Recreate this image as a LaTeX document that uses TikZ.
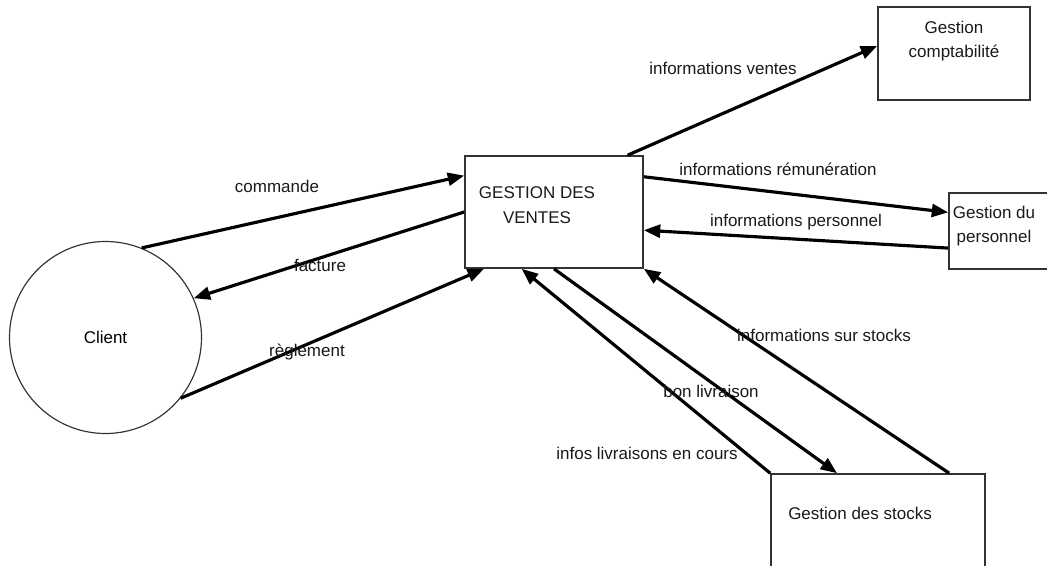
\documentclass[tikz,border=0pt]{standalone}
\usepackage{fontspec}
\setmainfont{Liberation Sans}
\usetikzlibrary{arrows.meta,calc}

\begin{document}
\begin{tikzpicture}[x=0.03cm,y=-0.03cm,font=\fontsize{14.5}{21}\selectfont,
>={Triangle[length=14pt,width=11pt]},
proc/.style={draw=black!80,line width=1.4pt,inner sep=0pt},
flow/.style={->,line width=2.7pt},
lbl/.style={inner sep=1pt,align=center,text=black!90}]
 \useasboundingbox (0,0) rectangle (1047,565);
 \clip (0,0) rectangle (1047,565);
 \node[proc,minimum width=5.34cm,minimum height=3.36cm] (ventes) at (554,212) {};
 \node[proc,minimum width=4.56cm,minimum height=2.79cm] (compta) at (954,53.5) {};
 \node[proc,minimum width=3.03cm,minimum height=2.28cm] (perso) at (999.5,231) {};
 \node[proc,minimum width=6.42cm,minimum height=4.2cm] (stocks) at (878,544) {};
 \node[circle,draw=black!80,line width=1pt,minimum size=5.76cm,inner sep=0pt] (client) at (105.5,337.5) {Client};
 \node[lbl] (ventes-txt) at (537,205) {GESTION DES\\VENTES};
 \node[lbl] (compta-txt) at (954,41) {Gestion\\comptabilité};
 \node[lbl] (perso-txt) at (994,226) {Gestion du\\personnel};
 \node[lbl] (stocks-txt) at (860,513) {Gestion des stocks};
 \draw[flow] (client.68) -- ($(ventes.north west)!0.18!(ventes.south west)$);
 \draw[flow] (ventes.west) -- (client.24);
 \draw[flow] (client.-39) -- ($(ventes.south west)!0.11!(ventes.south east)$);
 \draw[flow] ($(ventes.north west)!0.91!(ventes.north east)$) -- ($(compta.north west)!0.42!(compta.south west)$);
 \draw[flow] ($(ventes.north east)!0.19!(ventes.south east)$) -- ($(perso.north west)!0.26!(perso.south west)$);
 \draw[flow] ($(perso.north west)!0.72!(perso.south west)$) -- ($(ventes.north east)!0.66!(ventes.south east)$);
 \draw[flow] (stocks.north west) -- ($(ventes.south west)!0.32!(ventes.south east)$);
 \draw[flow] (ventes.south) -- ($(stocks.north west)!0.31!(stocks.north east)$);
 \draw[flow] ($(stocks.north west)!0.83!(stocks.north east)$) -- (ventes.south east);
 \node[lbl] (commande) at (277,186) {commande};
 \node[lbl] (facture) at (320,265) {facture};
 \node[lbl] (reglement) at (307,352) {règlement};
 \node[lbl] (info-ventes) at (723,68) {informations ventes};
 \node[lbl] (info-remu) at (778,169) {informations rémunération};
 \node[lbl] (info-perso) at (796,222) {informations personnel};
 \node[lbl] (info-stocks) at (824,335) {informations sur stocks};
 \node[lbl] (bon) at (711,391) {bon livraison};
 \node[lbl] (livr) at (647,453) {infos livraisons en cours};
\end{tikzpicture}
\end{document}
